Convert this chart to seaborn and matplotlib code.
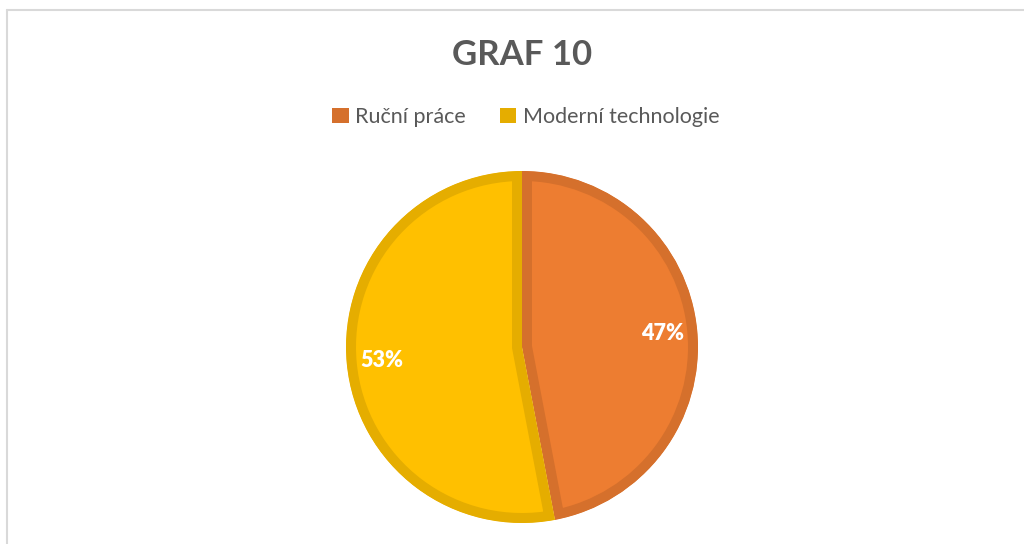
import matplotlib
matplotlib.use("Agg")
import matplotlib.pyplot as plt
import seaborn as sns
from matplotlib.patches import Patch
from matplotlib.lines import Line2D

categories = ["Ruční práce", "Moderní technologie"]
values = [47, 53]
title = "GRAF 10"

fill_colors = ["#ED7D31", "#FFC000"]
edge_colors = ["#D5702C", "#E5AD00"]

sns.set_theme(style="white")
plt.rcParams["font.family"] = ["Lato", "DejaVu Sans"]

fig = plt.figure(figsize=(10.24, 5.44), dpi=100)
fig.patch.set_facecolor("white")

W, H = 1024, 544
cx, cy, r = 522, 347, 176
ax = fig.add_axes([(cx - r) / W, (H - cy - r) / H, 2 * r / W, 2 * r / H])

wedges, texts, autotexts = ax.pie(
    values,
    colors=fill_colors,
    startangle=90,
    counterclock=False,
    autopct="%1.0f%%",
    pctdistance=0.8,
    radius=1,
    textprops=dict(color="white", fontsize=15.5, fontweight="heavy"),
)
for w, ec in zip(wedges, edge_colors):
    w.set_edgecolor(ec)
    w.set_linewidth(14.4)
    w.set_clip_on(True)
    w.set_clip_path(w)
ax.set_xlim(-1, 1)
ax.set_ylim(-1, 1)
ax.set_aspect("equal")
ax.axis("off")

fig.text(522 / W, 1 - 55 / H, title, ha="center", va="center",
         fontsize=25, fontweight="bold", color="#595959")

handles = [Patch(facecolor=c, edgecolor="none") for c in edge_colors]
leg = fig.legend(handles, categories, loc="center", bbox_to_anchor=(526 / W, 1 - 117 / H),
                 ncol=2, frameon=False, fontsize=15.5, handlelength=0.75, handleheight=0.75,
                 handletextpad=0.3, columnspacing=1.6, labelcolor="#595959")

# chart area border (top and left edges visible)
fig.add_artist(Line2D([7 / W, 7 / W], [-0.1, 1 - 10 / H], transform=fig.transFigure,
                      color="#D9D9D9", linewidth=1.5))
fig.add_artist(Line2D([7 / W, 1.1], [1 - 10 / H, 1 - 10 / H], transform=fig.transFigure,
                      color="#D9D9D9", linewidth=1.5))

fig.savefig("out.png", dpi=100, facecolor="white")
